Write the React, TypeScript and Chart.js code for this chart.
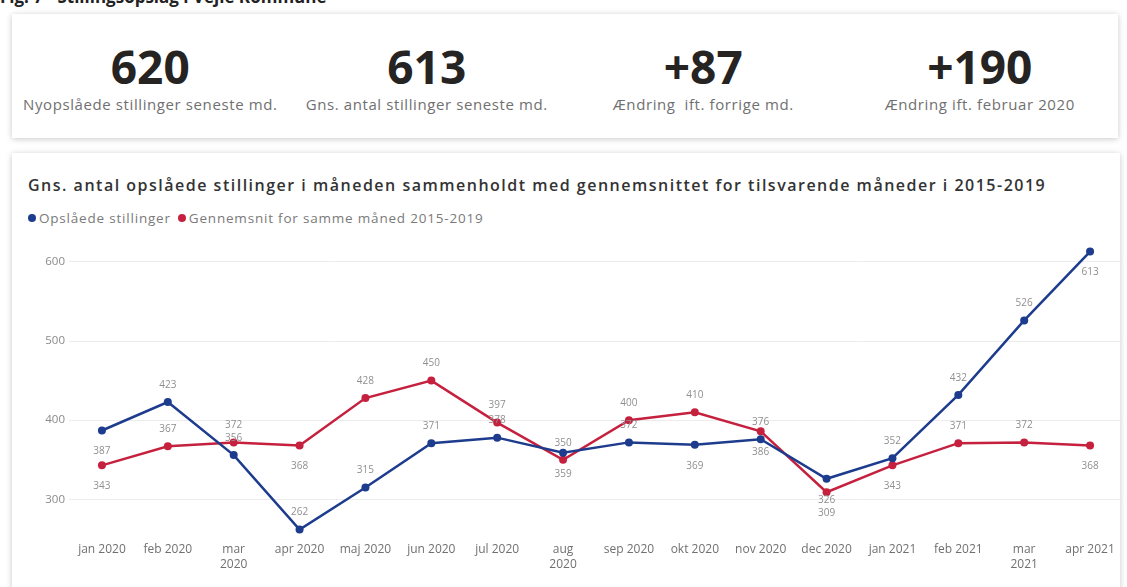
import React, { useEffect, useRef } from "react";
import { Chart, registerables } from "chart.js";

Chart.register(...registerables);

const CATEGORIES = [
  "jan 2020", "feb 2020", "mar 2020", "apr 2020", "maj 2020", "jun 2020", "jul 2020", "aug 2020",
  "sep 2020", "okt 2020", "nov 2020", "dec 2020", "jan 2021", "feb 2021", "mar 2021", "apr 2021",
];
const X_TICK_LABELS: (string | string[])[] = [
  "jan 2020", "feb 2020", ["mar", "2020"], "apr 2020", "maj 2020", "jun 2020", "jul 2020", ["aug", "2020"],
  "sep 2020", "okt 2020", "nov 2020", "dec 2020", "jan 2021", "feb 2021", ["mar", "2021"], "apr 2021",
];
const OPSLAAEDE = [387, 423, 356, 262, 315, 371, 378, 359, 372, 369, 376, 326, 352, 432, 526, 613];
const GENNEMSNIT = [343, 367, 372, 368, 428, 450, 397, 350, 400, 410, 386, 309, 343, 371, 372, 368];
const Y_TICKS = [300, 400, 500, 600];

// label placement: t = above point, b = below point
const OPSLAAEDE_LABEL_POS = ["b", "t", "t", "t", "t", "t", "t", "b", "t", "b", "t", "b", "t", "t", "t", "b"];
const GENNEMSNIT_LABEL_POS = ["b", "t", "t", "b", "t", "t", "t", "t", "t", "t", "b", "b", "b", "t", "t", "b"];

const KPI_VALUES = ["620", "613", "+87", "+190"];
const KPI_LABELS = [
  "Nyopslåede stillinger seneste md.",
  "Gns. antal stillinger seneste md.",
  "Ændring  ift. forrige md.",
  "Ændring ift. februar 2020",
];

const BLUE = "#1d3c8e";
const RED = "#c5213f";

const labelPlugin = {
  id: "valueLabels",
  afterDatasetsDraw(chart: any) {
    const ctx = chart.ctx;
    ctx.save();
    ctx.font = "10px 'Open Sans'";
    ctx.fillStyle = "#8f8f8f";
    ctx.textAlign = "center";
    ctx.textBaseline = "middle";
    chart.data.datasets.forEach((ds: any, di: number) => {
      const meta = chart.getDatasetMeta(di);
      const pos = ds.labelPos as string[];
      meta.data.forEach((pt: any, i: number) => {
        const dy = pos[i] === "t" ? -17 : 21;
        ctx.fillText(String(ds.data[i]), pt.x, pt.y + dy);
      });
    });
    ctx.restore();
  },
};

function LineChart() {
  const ref = useRef<HTMLCanvasElement>(null);
  useEffect(() => {
    if (!ref.current) return;
    const chart = new Chart(ref.current, {
      type: "line",
      data: {
        labels: CATEGORIES,
        datasets: [
          {
            label: "Opslåede stillinger",
            data: OPSLAAEDE,
            borderColor: BLUE,
            backgroundColor: BLUE,
            borderWidth: 2.5,
            pointRadius: 4,
            pointBackgroundColor: BLUE,
            pointBorderWidth: 0,
            tension: 0,
            labelPos: OPSLAAEDE_LABEL_POS,
          } as any,
          {
            label: "Gennemsnit for samme måned 2015-2019",
            data: GENNEMSNIT,
            borderColor: RED,
            backgroundColor: RED,
            borderWidth: 2.5,
            pointRadius: 4,
            pointBackgroundColor: RED,
            pointBorderWidth: 0,
            tension: 0,
            labelPos: GENNEMSNIT_LABEL_POS,
          } as any,
        ],
      },
      options: {
        animation: false,
        responsive: false,
        maintainAspectRatio: false,
        layout: { padding: { top: 11, right: 4, left: 0, bottom: 0 } },
        plugins: {
          legend: { display: false },
          tooltip: { enabled: false },
        },
        scales: {
          x: {
            offset: true,
            grid: { display: false, drawTicks: false },
            border: { display: false },
            ticks: {
              autoSkip: false,
              maxRotation: 0,
              minRotation: 0,
              padding: 3,
              color: "#707070",
              font: { family: "'Open Sans'", size: 12, lineHeight: 1.25 },
              callback: (_v: any, i: number) => X_TICK_LABELS[i],
            },
            afterFit: (s: any) => {
              s.height = 48;
            },
          },
          y: {
            min: 250,
            max: 620,
            grid: { color: "#ececec", drawTicks: false, lineWidth: 1 },
            border: { display: false },
            ticks: {
              padding: 4,
              color: "#8a8a8a",
              font: { family: "'Open Sans'", size: 11.5 },
            },
            afterBuildTicks: (s: any) => {
              s.ticks = Y_TICKS.map((v) => ({ value: v }));
            },
            afterFit: (s: any) => {
              s.width = 57;
            },
          },
        },
      },
      plugins: [labelPlugin],
    });
    return () => chart.destroy();
  }, []);
  return (
    <canvas
      ref={ref}
      width={1115}
      height={352}
      style={{ position: "absolute", left: 12, top: 235, width: 1115, height: 352 }}
    />
  );
}

export default function App() {
  const cardW = 1106 / 4;
  return (
    <div
      style={{
        position: "fixed",
        left: 0,
        top: 0,
        width: 1127,
        height: 587,
        overflow: "hidden",
        background: "#ffffff",
        fontFamily: "'Open Sans', sans-serif",
      }}
    >
      <div
        style={{
          position: "absolute",
          left: 0,
          top: -15,
          fontSize: 17,
          fontWeight: 700,
          color: "#222",
          whiteSpace: "nowrap",
        }}
      >
        Fig. 7 - Stillingsopslag i Vejle Kommune
      </div>

      <div
        style={{
          position: "absolute",
          left: 12,
          top: 14,
          width: 1106,
          height: 124,
          background: "#fff",
          boxShadow: "0 1px 6px rgba(0,0,0,0.22)",
        }}
      >
        {KPI_VALUES.map((v, i) => (
          <div
            key={i}
            style={{ position: "absolute", left: i * cardW, top: 0, width: cardW, height: 124, textAlign: "center" }}
          >
            <div
              style={{
                position: "absolute",
                left: 0,
                right: 0,
                top: 22,
                fontSize: 46,
                fontWeight: 700,
                color: "#252423",
                lineHeight: "60px",
              }}
            >
              {v}
            </div>
            <div
              style={{
                position: "absolute",
                left: 0,
                right: 0,
                top: 80,
                fontSize: 15,
                color: "#707070",
                lineHeight: "20px",
                whiteSpace: "pre",
                letterSpacing: 0.6,
              }}
            >
              {KPI_LABELS[i]}
            </div>
          </div>
        ))}
      </div>

      <div
        style={{
          position: "absolute",
          left: 12,
          top: 153,
          width: 1108,
          height: 450,
          background: "#fff",
          boxShadow: "0 1px 6px rgba(0,0,0,0.22)",
        }}
      />
      <div
        style={{
          position: "absolute",
          left: 28,
          top: 174,
          fontSize: 16,
          fontWeight: 600,
          color: "#333",
          letterSpacing: 1.5,
          whiteSpace: "nowrap",
          lineHeight: "22px",
        }}
      >
        Gns. antal opslåede stillinger i måneden sammenholdt med gennemsnittet for tilsvarende måneder i 2015-2019
      </div>
      <div
        style={{
          position: "absolute",
          left: 28,
          top: 209,
          fontSize: 13.5,
          color: "#7a7a7a",
          whiteSpace: "nowrap",
          lineHeight: "18px",
          letterSpacing: 0.8,
          display: "flex",
          alignItems: "center",
        }}
      >
        <span style={{ width: 8, height: 8, borderRadius: 4, background: BLUE, display: "inline-block", marginRight: 3 }} />
        <span style={{ marginRight: 7 }}>Opslåede stillinger</span>
        <span style={{ width: 8, height: 8, borderRadius: 4, background: RED, display: "inline-block", marginRight: 3 }} />
        <span>Gennemsnit for samme måned 2015-2019</span>
      </div>
      <LineChart />
    </div>
  );
}
